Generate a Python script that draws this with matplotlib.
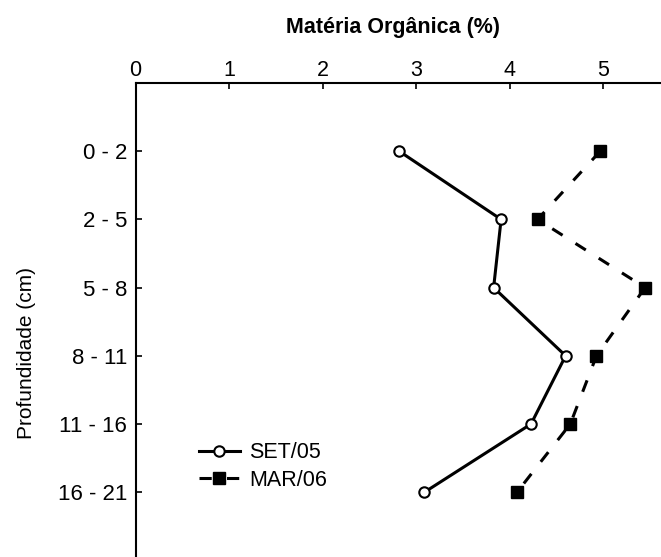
import matplotlib
matplotlib.use("Agg")
import matplotlib.pyplot as plt

plt.rcParams['font.family'] = ['Liberation Sans', 'DejaVu Sans']

depths = ['0 - 2', '2 - 5', '5 - 8', '8 - 11', '11 - 16', '16 - 21']
set05 = [2.82, 3.91, 3.83, 4.60, 4.23, 3.09]
mar06 = [4.97, 4.30, 5.45, 4.93, 4.65, 4.08]
xticks = [0, 1, 2, 3, 4, 5]

fig = plt.figure(figsize=(6.61, 5.57), dpi=100)
ax = fig.add_axes([0.205, 0.0, 0.795, 0.851])

pos = list(range(len(depths)))
ax.plot(set05, pos, color='black', lw=2.2, marker='o', ms=7.5,
        mfc='white', mec='black', mew=1.5, label='SET/05')
ax.plot(mar06, pos, color='black', lw=2.2, ls=(0, (4, 5)), marker='s', ms=8.5,
        mfc='black', mec='black', label='MAR/06')

ax.set_xlim(0, 5.62)
ax.set_ylim(5.95, -1)
ax.set_xticks(xticks)
ax.set_yticks(pos)
ax.set_yticklabels(depths)
ax.xaxis.tick_top()
ax.xaxis.set_label_position('top')
ax.tick_params(direction='in', length=4, width=1.2, labelsize=15, pad=6)
ax.tick_params(axis='y', labelsize=16)
ax.tick_params(axis='x', labelsize=15.5, pad=1.5)
ax.spines['right'].set_visible(False)
ax.spines['bottom'].set_visible(False)
ax.spines['left'].set_linewidth(1.5)
ax.spines['top'].set_linewidth(1.5)

ax.set_xlabel('Matéria Orgânica (%)', fontsize=15.5, fontweight='bold', labelpad=19.5)
ax.xaxis.label.set_x(0.49)
ax.set_ylabel('Profundidade (cm)', fontsize=15)
ax.yaxis.set_label_coords(-0.19, 0.43)

ax.legend(loc='upper left', bbox_to_anchor=(0.104, 0.26), frameon=False,
          fontsize=15.5, handlelength=1.9, handletextpad=0.45, labelspacing=0.3,
          borderaxespad=0)

fig.savefig('out.png', dpi=100)
